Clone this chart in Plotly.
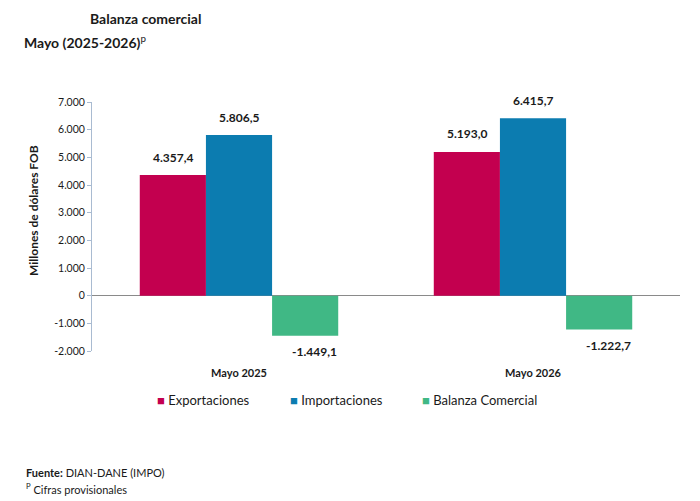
import plotly.graph_objects as go

categories = ["Mayo 2025", "Mayo 2026"]
exportaciones = [4357.4, 5193.0]
importaciones = [5806.5, 6415.7]
balanza = [-1449.1, -1222.7]
series_names = ["Exportaciones", "Importaciones", "Balanza Comercial"]
colors = ["#C3004F", "#0C7CB0", "#40B885"]
tick_vals = [-2000, -1000, 0, 1000, 2000, 3000, 4000, 5000, 6000, 7000]
tick_text = ["-2.000", "-1.000", "0", "1.000", "2.000", "3.000", "4.000", "5.000", "6.000", "7.000"]

FONT = "Lato"


def fmt(v):
    s = f"{abs(v):,.1f}".replace(",", "X").replace(".", ",").replace("X", ".")
    return ("-" if v < 0 else "") + s


fig = go.Figure()
for name, vals, col in zip(series_names, [exportaciones, importaciones, balanza], colors):
    fig.add_trace(go.Bar(x=categories, y=vals, name=name, marker=dict(color=col, line=dict(width=0)),
                         showlegend=False, hoverinfo="x+y"))

W, H = 700, 501
ml, mr, mt, mb = 92, 20, 102, 150
pw, ph = W - ml - mr, H - mt - mb

# data labels
bar_px = 66
annotations = []
for i, vals in enumerate([exportaciones, importaciones, balanza]):
    for c, v in zip(categories, vals):
        annotations.append(dict(
            x=c, y=v, xref="x", yref="y", text=f"<b>{fmt(v)}</b>", showarrow=False,
            xshift=(i - 1) * bar_px + (9 if v < 0 else 0), yshift=(18 if v >= 0 else -16),
            font=dict(family=FONT, size=12, color="#1a1a1a")))


def px(x, y, **kw):
    d = dict(x=(x - ml) / pw, y=1 - (y - mt) / ph, xref="paper", yref="paper", showarrow=False)
    d.update(kw)
    return d


annotations.append(px(88, 18, text="<b>Balanza comercial</b>", xanchor="left", yanchor="middle",
                      font=dict(family=FONT, size=14, color="#1a1a1a")))
annotations.append(px(22, 41, text="<b>Mayo (2025-2026)</b><sup>p</sup>", xanchor="left", yanchor="middle",
                      font=dict(family=FONT, size=14, color="#1a1a1a")))
annotations.append(px(33, 211, text="<b>Millones de dólares FOB</b>", textangle=-90, xanchor="center",
                      yanchor="middle", font=dict(family=FONT, size=12, color="#1a1a1a")))
# legend
leg_x = [155, 288, 420]
for name, col, lx in zip(series_names, colors, leg_x):
    annotations.append(px(lx, 400, text=f"<span style='color:{col}'>■</span> {name}", xanchor="left",
                          yanchor="middle", font=dict(family=FONT, size=13, color="#1a1a1a")))
# footer
annotations.append(px(24, 472, text="<b>Fuente:</b> DIAN-DANE (IMPO)", xanchor="left", yanchor="middle",
                      font=dict(family=FONT, size=11, color="#1a1a1a")))
annotations.append(px(24, 488, text="<sup>P</sup> Cifras provisionales", xanchor="left", yanchor="middle",
                      font=dict(family=FONT, size=11, color="#1a1a1a")))

fig.update_layout(
    width=W, height=H, margin=dict(l=ml, r=mr, t=mt, b=mb),
    paper_bgcolor="white", plot_bgcolor="white",
    barmode="group", bargap=0.325, bargroupgap=0,
    font=dict(family=FONT, size=11, color="#1a1a1a"),
    annotations=annotations,
    xaxis=dict(showgrid=False, showline=False, zeroline=False, ticks="",
               tickfont=dict(family=FONT, size=11, color="#1a1a1a"),
               ticklabelstandoff=14, tickprefix="<b>", ticksuffix="</b>"),
    yaxis=dict(range=[-2000, 7000], tickvals=tick_vals, ticktext=tick_text, showgrid=False,
               showline=True, linecolor="#A9BBD1", linewidth=1, ticks="outside", ticklen=4,
               tickcolor="#A9BBD1", zeroline=True, zerolinecolor="#8a8a8a", zerolinewidth=1,
               tickfont=dict(family=FONT, size=10.5, color="#1a1a1a")),
)

fig.write_html("out.html")
